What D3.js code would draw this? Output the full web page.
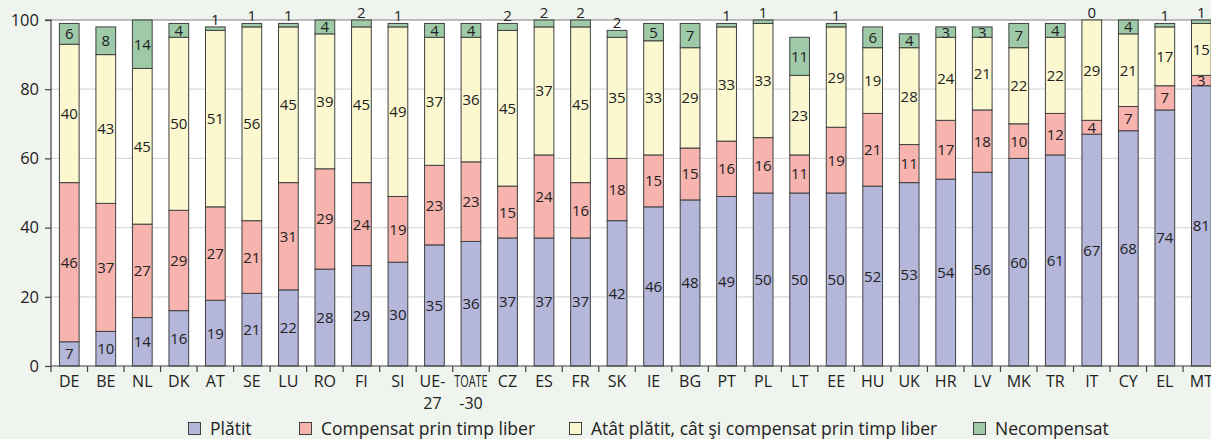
<!DOCTYPE html>
<html><head><meta charset="utf-8">
<script src="https://cdn.jsdelivr.net/npm/d3@7"></script>
<style>
html,body{margin:0;padding:0;background:#eff4ee;overflow:hidden;}
svg{display:block;font-family:"Open Sans",sans-serif;}
</style></head>
<body>
<svg id="chart" width="1211" height="439"></svg>
<script>
const categories = ["DE","BE","NL","DK","AT","SE","LU","RO","FI","SI","UE-27","TOATE-30","CZ","ES","FR","SK","IE","BG","PT","PL","LT","EE","HU","UK","HR","LV","MK","TR","IT","CY","EL","MT"];
const platit =      [7,10,14,16,19,21,22,28,29,30,35,36,37,37,37,42,46,48,49,50,50,50,52,53,54,56,60,61,67,68,74,81];
const compensat =   [46,37,27,29,27,21,31,29,24,19,23,23,15,24,16,18,15,15,16,16,11,19,21,11,17,18,10,12,4,7,7,3];
const ambele =      [40,43,45,50,51,56,45,39,45,49,37,36,45,37,45,35,33,29,33,33,23,29,19,28,24,21,22,22,29,21,17,15];
const necompensat = [6,8,14,4,1,1,1,4,2,1,4,4,2,2,2,2,5,7,1,1,11,1,6,4,3,3,7,4,0,4,1,1];
const seriesNames = ["Plătit","Compensat prin timp liber","Atât plătit, cât şi compensat prin timp liber","Necompensat"];
const seriesColors = ["#b4b6da","#f7b3ae","#fbf8cf","#9ecaa8"];
const yTicks = [0,20,40,60,80,100];

(function(){
const svg = d3.select("#chart");
const mLeft = 51, mTop = 20, mBottom = 366, mRight = 1219.6;

const rows = categories.map((c,i)=>({cat:c, s0:platit[i], s1:compensat[i], s2:ambele[i], s3:necompensat[i]}));
const keys = ["s0","s1","s2","s3"];
const stack = d3.stack().keys(keys)(rows);

const x = d3.scaleBand().domain(categories).range([mLeft,mRight]).paddingInner(0.46).paddingOuter(0.23);
const y = d3.scaleLinear().domain([0,100]).range([mBottom,mTop]);

svg.append("rect").attr("x",mLeft).attr("y",mTop).attr("width",mRight-mLeft).attr("height",mBottom-mTop).attr("fill","#ffffff");

svg.append("g").selectAll("line").data(yTicks.filter(t=>t>0 && t<100)).join("line")
  .attr("x1",mLeft).attr("x2",mRight).attr("y1",d=>y(d)).attr("y2",d=>y(d))
  .attr("stroke","#dadada").attr("stroke-width",1.3);
svg.append("line").attr("x1",mLeft).attr("x2",mRight).attr("y1",y(100)).attr("y2",y(100)).attr("stroke","#808080").attr("stroke-width",1.2);

const g = svg.append("g");
stack.forEach((layer,li)=>{
  g.append("g").selectAll("rect").data(layer).join("rect")
    .attr("x",d=>x(d.data.cat)).attr("width",x.bandwidth())
    .attr("y",d=>y(d[1])).attr("height",d=>y(d[0])-y(d[1]))
    .attr("fill",seriesColors[li]).attr("stroke","#404040").attr("stroke-width",1);
});

stack.forEach((layer,li)=>{
  g.append("g").selectAll("text").data(layer).join("text")
    .attr("x",d=>x(d.data.cat)+x.bandwidth()/2)
    .attr("y",d=>{
      const v = d[1]-d[0];
      if (v<=2) return y(d[1])-2;
      return (y(d[0])+y(d[1]))/2+5.5;
    })
    .attr("text-anchor","middle").attr("font-size",15).attr("fill","#222")
    .text(d=>d[1]-d[0]);
});

const ya = svg.append("g").attr("transform",`translate(${mLeft},0)`)
  .call(d3.axisLeft(y).tickValues(yTicks).tickSize(6).tickPadding(6));
ya.select(".domain").attr("stroke","#404040").attr("stroke-width",1.2).attr("d",`M-6,${y(100)}H0V${mBottom}`);
ya.selectAll(".tick line").attr("stroke","#404040").attr("stroke-width",1.2);
ya.selectAll(".tick text").attr("font-size",16.5).attr("fill","#222").attr("font-family","Open Sans, sans-serif");

const xa = svg.append("g");
xa.append("line").attr("x1",mLeft).attr("x2",mRight).attr("y1",mBottom).attr("y2",mBottom).attr("stroke","#404040").attr("stroke-width",1.2);
const step = x.step();
xa.selectAll("line.tk").data(d3.range(categories.length+1)).join("line").attr("class","tk")
  .attr("x1",i=>mLeft+i*step).attr("x2",i=>mLeft+i*step).attr("y1",mBottom).attr("y2",mBottom+6)
  .attr("stroke","#404040").attr("stroke-width",1.2);
const lineGap = 22;
categories.forEach(c=>{
  const cx = x(c)+x.bandwidth()/2;
  const yy = mBottom+21;
  if (c==="UE-27") {
    xa.append("text").attr("x",cx-2).attr("y",yy).attr("text-anchor","middle").attr("font-size",16).attr("fill","#222").text("UE-");
    xa.append("text").attr("x",cx-2).attr("y",yy+lineGap).attr("text-anchor","middle").attr("font-size",16).attr("fill","#222").text("27");
  } else if (c==="TOATE-30") {
    xa.append("g").attr("transform",`translate(${cx},${yy}) scale(0.68,1)`)
      .append("text").attr("x",0).attr("y",0).attr("text-anchor","middle")
      .attr("font-size",16).attr("fill","#222").text("TOATE");
    xa.append("text").attr("x",cx).attr("y",yy+lineGap).attr("text-anchor","middle").attr("font-size",16).attr("fill","#222").text("-30");
  } else {
    xa.append("text").attr("x",cx).attr("y",yy)
      .attr("text-anchor","middle").attr("font-size",16).attr("fill","#222").text(c);
  }
});

const legX = [188,299,569,973];
const lg = svg.append("g");
seriesNames.forEach((n,i)=>{
  lg.append("rect").attr("x",legX[i]+0.5).attr("y",422.5).attr("width",12).attr("height",12)
    .attr("fill",seriesColors[i]).attr("stroke","#404040").attr("stroke-width",1);
  lg.append("text").attr("x",legX[i]+22).attr("y",435).attr("font-size",17.5).attr("fill","#222").text(n);
});
})();
</script>
</body></html>
